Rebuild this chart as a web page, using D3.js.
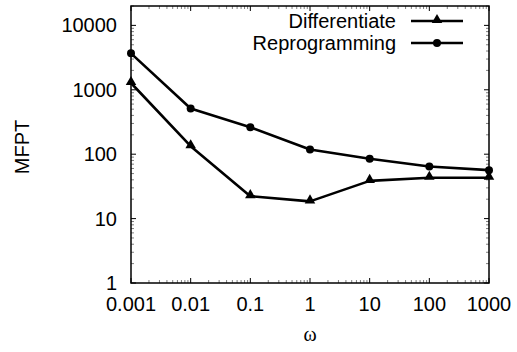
<!DOCTYPE html>
<html>
<head>
<meta charset="utf-8">
<script src="https://d3js.org/d3.v7.min.js"></script>
<style>
  body { margin: 0; background: #fff; }
  text { font-family: "Liberation Sans", Arial, sans-serif; font-size: 20px; fill: #000; }
</style>
</head>
<body>
<script>
// data
var omega = [0.001, 0.01, 0.1, 1, 10, 100, 1000];
var differentiate = [1275, 133, 22.3, 18.5, 38.5, 43, 43];
var reprogramming = [3680, 511, 262, 118, 85, 64.5, 56.5];
var xTicks = [0.001, 0.01, 0.1, 1, 10, 100, 1000];
var yTicks = [1, 10, 100, 1000, 10000];
var seriesNames = ["Differentiate", "Reprogramming"];

var W = 517, H = 352;
var plotL = 131, plotR = 489, plotT = 6, plotB = 283;

var svg = d3.select("body").append("svg")
  .attr("width", W).attr("height", H);

var x = d3.scaleLog().domain([0.001, 1000]).range([plotL, plotR]);
var y = d3.scaleLog().domain([1, 20000]).range([plotB, plotT]);

// minor ticks (2..9 in each decade)
var xMinor = [], yMinor = [];
xTicks.slice(0, -1).forEach(function(t) { for (var k = 2; k < 10; k++) xMinor.push(t * k); });
yTicks.forEach(function(t) { for (var k = 2; k < 10; k++) if (t * k <= 20000) yMinor.push(t * k); });

var ticks = svg.append("g").attr("stroke", "#000");
function tickLines(vals, len, isX, op) {
  vals.forEach(function(v) {
    if (isX) {
      var px = x(v);
      ticks.append("line").attr("x1", px).attr("x2", px).attr("y1", plotB).attr("y2", plotB - len).attr("stroke-opacity", op);
      ticks.append("line").attr("x1", px).attr("x2", px).attr("y1", plotT).attr("y2", plotT + len).attr("stroke-opacity", op);
    } else {
      var py = y(v);
      ticks.append("line").attr("x1", plotL).attr("x2", plotL + len).attr("y1", py).attr("y2", py).attr("stroke-opacity", op);
      ticks.append("line").attr("x1", plotR).attr("x2", plotR - len).attr("y1", py).attr("y2", py).attr("stroke-opacity", op);
    }
  });
}
tickLines(xTicks, 5, true, 1);
tickLines(yTicks, 5, false, 1);
tickLines(xMinor, 3, true, 0.5);
tickLines(yMinor, 3, false, 0.5);

// frame
svg.append("rect")
  .attr("x", plotL).attr("y", plotT)
  .attr("width", plotR - plotL).attr("height", plotB - plotT)
  .attr("fill", "none").attr("stroke", "#000").attr("stroke-width", 1.5);

// tick labels
svg.append("g").selectAll("text").data(xTicks).enter().append("text")
  .attr("x", function(d) { return x(d); })
  .attr("y", 311)
  .attr("text-anchor", "middle")
  .text(function(d) { return String(d); });

svg.append("g").selectAll("text").data(yTicks).enter().append("text")
  .attr("x", 117)
  .attr("y", function(d) { return y(d) + 7; })
  .attr("text-anchor", "end")
  .text(function(d) { return String(d); });

// axis titles
svg.append("text")
  .attr("transform", "translate(29,147) rotate(-90)")
  .attr("text-anchor", "middle")
  .text("MFPT");

svg.append("text")
  .attr("x", 310).attr("y", 341)
  .attr("text-anchor", "middle")
  .style("font-family", "'Liberation Serif', 'Times New Roman', serif")
  .text("ω");

// series
var line = d3.line()
  .x(function(d) { return x(d[0]); })
  .y(function(d) { return y(d[1]); });

var tri = d3.symbol().type(d3.symbolTriangle).size(48);

function drawSeries(vals, marker) {
  var pts = omega.map(function(w, i) { return [w, vals[i]]; });
  svg.append("path").datum(pts)
    .attr("d", line)
    .attr("fill", "none").attr("stroke", "#000")
    .attr("stroke-width", 2.6).attr("stroke-linejoin", "round");
  pts.forEach(function(p) { marker(x(p[0]), y(p[1])); });
}
function triangle(cx, cy) {
  svg.append("path").attr("d", tri)
    .attr("transform", "translate(" + cx + "," + (cy - 1) + ")")
    .attr("fill", "#000");
}
function dot(cx, cy) {
  svg.append("circle").attr("cx", cx).attr("cy", cy).attr("r", 4).attr("fill", "#000");
}
drawSeries(differentiate, triangle);
drawSeries(reprogramming, dot);

// legend
var legY = [21, 43];
var markers = [triangle, dot];
seriesNames.forEach(function(name, i) {
  svg.append("text")
    .attr("x", 396).attr("y", legY[i] + 7)
    .attr("text-anchor", "end")
    .text(name);
  svg.append("line")
    .attr("x1", 411).attr("x2", 463)
    .attr("y1", legY[i]).attr("y2", legY[i])
    .attr("stroke", "#000").attr("stroke-width", 2.6);
  markers[i](437, legY[i]);
});
</script>
</body>
</html>
